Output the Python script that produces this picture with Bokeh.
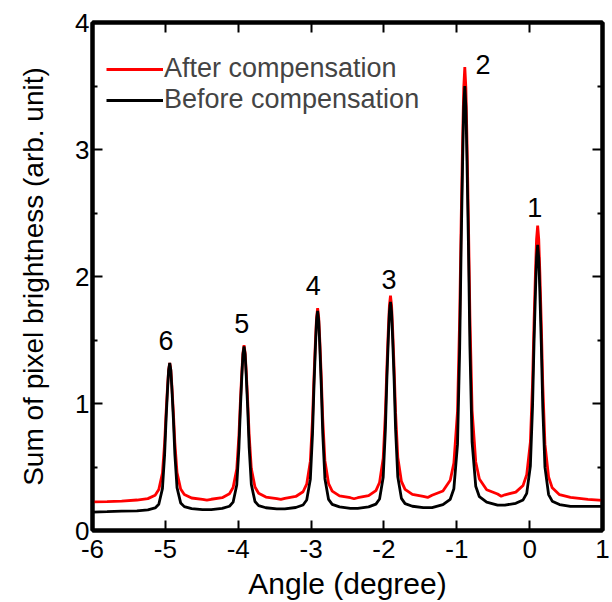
from bokeh.plotting import figure
from bokeh.models import (LinearAxis, FixedTicker, Legend, LegendItem, ColumnDataSource, Range1d)
from bokeh.core.properties import value
from bokeh.embed import file_html
from bokeh.resources import INLINE

FONT = "Liberation Sans"

# ---- data ----
x_ticks = [-6, -5, -4, -3, -2, -1, 0, 1]
x_tick_text = ["-6", "-5", "-4", "-3", "-2", "-1", "0", "1"]
y_ticks = [0, 1, 2, 3, 4]
y_minor = [0.5, 1.5, 2.5, 3.5]

peak_centers = [-4.94, -3.92, -2.91, -1.91, -0.89, 0.11]
peak_names = ["6", "5", "4", "3", "2", "1"]
label_x = [-4.99, -3.95, -2.97, -1.93, -0.64, 0.07]
label_y = [1.50, 1.63, 1.93, 1.98, 3.67, 2.54]

# sampling offsets around each peak (degrees)
offsets = [-0.45, -0.3, -0.2, -0.15, -0.1, -0.07, -0.05, -0.03, -0.015, 0.0,
           0.015, 0.03, 0.05, 0.07, 0.1, 0.15, 0.2, 0.3, 0.45]

before_peaks = [
    [0.155, 0.163, 0.178, 0.207, 0.330, 0.598, 0.877, 1.110, 1.262, 1.32,
     1.262, 1.112, 0.881, 0.604, 0.338, 0.217, 0.188, 0.173, 0.165],
    [0.165, 0.174, 0.191, 0.223, 0.358, 0.653, 0.962, 1.219, 1.386, 1.45,
     1.386, 1.220, 0.964, 0.656, 0.362, 0.228, 0.196, 0.179, 0.170],
    [0.170, 0.181, 0.201, 0.240, 0.404, 0.763, 1.137, 1.449, 1.652, 1.73,
     1.652, 1.450, 1.139, 0.766, 0.408, 0.245, 0.206, 0.186, 0.175],
    [0.175, 0.186, 0.208, 0.248, 0.419, 0.793, 1.183, 1.508, 1.719, 1.80,
     1.719, 1.508, 1.184, 0.796, 0.423, 0.253, 0.212, 0.191, 0.180],
    [0.180, 0.203, 0.246, 0.329, 0.678, 1.442, 2.238, 2.902, 3.334, 3.50,
     3.335, 2.906, 2.246, 1.454, 0.695, 0.349, 0.266, 0.223, 0.200],
    [0.200, 0.214, 0.241, 0.292, 0.508, 0.979, 1.471, 1.881, 2.148, 2.25,
     2.147, 1.879, 1.467, 0.973, 0.499, 0.283, 0.231, 0.204, 0.190],
]
after_peaks = [
    [0.240, 0.251, 0.278, 0.322, 0.452, 0.691, 0.929, 1.136, 1.266, 1.32,
     1.266, 1.136, 0.931, 0.694, 0.456, 0.326, 0.283, 0.256, 0.245],
    [0.246, 0.258, 0.289, 0.338, 0.484, 0.752, 1.021, 1.253, 1.399, 1.46,
     1.399, 1.253, 1.023, 0.755, 0.488, 0.342, 0.294, 0.263, 0.251],
    [0.253, 0.268, 0.305, 0.365, 0.546, 0.877, 1.208, 1.494, 1.675, 1.75,
     1.675, 1.495, 1.210, 0.880, 0.550, 0.370, 0.310, 0.273, 0.258],
    [0.258, 0.274, 0.314, 0.378, 0.570, 0.922, 1.274, 1.578, 1.770, 1.85,
     1.771, 1.580, 1.278, 0.928, 0.578, 0.387, 0.324, 0.284, 0.268],
    [0.277, 0.311, 0.396, 0.531, 0.938, 1.684, 2.430, 3.074, 3.481, 3.65,
     3.481, 3.075, 2.433, 1.690, 0.946, 0.540, 0.405, 0.321, 0.287],
    [0.281, 0.302, 0.355, 0.440, 0.696, 1.165, 1.633, 2.038, 2.294, 2.40,
     2.293, 2.035, 1.626, 1.153, 0.680, 0.422, 0.336, 0.282, 0.261],
]

# baseline points away from the peaks
valley_x = [-6.0, -5.8, -5.6, -4.43, -3.415, -2.41, -1.40, -0.39, 0.8, 1.0]
before_valley = [0.145, 0.148, 0.152, 0.165, 0.170, 0.175, 0.180, 0.200, 0.190, 0.190]
after_valley = [0.225, 0.228, 0.232, 0.240, 0.245, 0.250, 0.260, 0.270, 0.245, 0.237]


def build(peaks, valley):
    pts = list(zip(valley_x, valley))
    for c, ys in zip(peak_centers, peaks):
        for o, yv in zip(offsets, ys):
            pts.append((round(c + o, 4), yv))
    pts.sort(key=lambda t: t[0])
    return [t[0] for t in pts], [t[1] for t in pts]


bx, by = build(before_peaks, before_valley)
ax_, ay = build(after_peaks, after_valley)

p = figure(frame_width=510, frame_height=508,
           x_range=Range1d(-6, 1), y_range=Range1d(0, 4),
           min_border_left=92, min_border_top=22, min_border_right=8,
           min_border_bottom=72,
           output_backend="svg", toolbar_location=None)
p.grid.visible = False
p.outline_line_color = "black"
p.outline_line_width = 4
p.background_fill_color = "white"
p.border_fill_color = "white"

r_after = p.line(ax_, ay, line_color="#ff0000", line_width=2.8)
r_before = p.line(bx, by, line_color="#000000", line_width=2.8)

src = ColumnDataSource(dict(x=label_x, y=label_y, t=peak_names))
p.text(x="x", y="y", text="t", source=src, text_font=value(FONT),
       text_font_size="27px", text_align="center", text_baseline="middle",
       text_color="black")

xt = FixedTicker(ticks=x_ticks, minor_ticks=[])
yt = FixedTicker(ticks=y_ticks, minor_ticks=y_minor)


def style(axis, labels=True):
    axis.axis_line_width = 4
    axis.axis_line_color = "black"
    axis.major_tick_in = 10
    axis.major_tick_out = 0
    axis.major_tick_line_width = 2
    axis.minor_tick_in = 5
    axis.minor_tick_out = 0
    axis.minor_tick_line_width = 2
    axis.major_label_text_font = FONT
    axis.axis_label_text_font = FONT
    axis.axis_label_text_font_style = "normal"
    axis.axis_label_text_color = "black"
    axis.major_label_text_color = "black"
    if not labels:
        axis.major_label_text_color = None
        axis.major_label_text_alpha = 0
        axis.major_label_text_font_size = "0px"
        axis.major_label_standoff = 0


p.xaxis.ticker = xt
p.yaxis.ticker = yt
style(p.xaxis[0])
style(p.yaxis[0])
p.xaxis.major_label_overrides = dict(zip(x_ticks, x_tick_text))
p.xaxis.axis_label = "Angle (degree)"
p.yaxis.axis_label = "Sum of pixel brightness (arb. unit)"
p.xaxis.major_label_text_font_size = "26px"
p.yaxis.major_label_text_font_size = "26px"
p.xaxis.axis_label_text_font_size = "30px"
p.yaxis.axis_label_text_font_size = "28px"
p.xaxis.major_label_standoff = 9
p.yaxis.major_label_standoff = 3
p.xaxis.axis_label_standoff = 6
p.yaxis.axis_label_standoff = 23

top = LinearAxis(ticker=xt)
style(top, labels=False)
p.add_layout(top, "above")
right = LinearAxis(ticker=yt)
style(right, labels=False)
p.add_layout(right, "right")


def make_legend(label, renderer, loc):
    lg = Legend(items=[LegendItem(label=label, renderers=[renderer])], location=loc)
    lg.label_text_font = FONT
    lg.label_text_font_size = "27px"
    lg.glyph_width = 57
    lg.glyph_height = 20
    lg.label_standoff = 1
    lg.padding = 0
    lg.margin = 0
    lg.border_line_alpha = 0
    lg.background_fill_alpha = 0
    return lg


p.add_layout(make_legend("After compensation", r_after, (14, 446)))
p.add_layout(make_legend("Before compensation", r_before, (14, 415)))

open("out.html", "w").write(file_html(p, INLINE))
